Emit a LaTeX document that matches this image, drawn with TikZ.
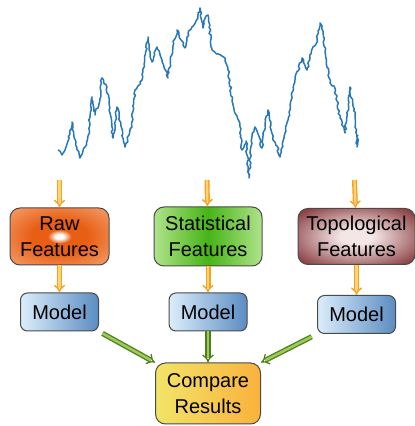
\documentclass[tikz,border=0pt]{standalone}
\usepackage{fontspec}
\setmainfont{Liberation Sans}
\usetikzlibrary{arrows.meta,positioning,decorations.pathmorphing}
\definecolor{boxline}{HTML}{4A4A4A}
\definecolor{seriesblue}{HTML}{2878B8}
\definecolor{feedorange}{HTML}{F5A21C}
\definecolor{feedinner}{HTML}{FDD27A}
\definecolor{mergegreen}{HTML}{4E7F1A}
\definecolor{mergeinner}{HTML}{9BCB5A}
\definecolor{rawcore}{HTML}{E85E14}
\definecolor{rawedge}{HTML}{F39A66}
\definecolor{statlight}{HTML}{B0E38A}
\definecolor{statdark}{HTML}{46B416}
\definecolor{topocore}{HTML}{F4E6E6}
\definecolor{topoedge}{HTML}{741A1E}
\definecolor{modellight}{HTML}{DCEDFB}
\definecolor{modeldark}{HTML}{5B8CC2}
\definecolor{cmpleft}{HTML}{F2E468}
\definecolor{cmpright}{HTML}{F9B23C}
\pgfdeclareradialshading{rawglow}{\pgfpoint{0bp}{0bp}}{color(0bp)=(white);color(2bp)=(white);color(6bp)=(rawcore);color(14bp)=(rawcore);color(34bp)=(rawedge);color(50bp)=(rawedge)}
\pgfdeclareradialshading{topoglow}{\pgfpoint{0bp}{0bp}}{color(0bp)=(topocore);color(7bp)=(topocore);color(38bp)=(topoedge);color(50bp)=(topoedge)}
\tikzset{
  featbox/.style={rectangle,rounded corners=5pt,draw=boxline,line width=0.5pt,align=center,inner sep=2pt,font=\fontsize{10}{13}\selectfont},
  modelbox/.style={rectangle,rounded corners=3.5pt,draw=boxline,line width=0.5pt,left color=modellight,right color=modeldark,minimum width=39pt,minimum height=19pt,inner sep=2pt,font=\fontsize{10}{13}\selectfont},
  resultbox/.style={rectangle,rounded corners=5pt,draw=boxline,line width=0.5pt,left color=cmpleft,right color=cmpright,align=center,minimum width=52.5pt,minimum height=30.5pt,inner sep=2pt,font=\fontsize{10}{13}\selectfont},
  feedarrow/.style={-{Implies},draw=feedorange,double=feedinner,double distance=1.1pt,line width=0.7pt},
  mergearrow/.style={-{Implies},draw=mergegreen,double=mergeinner,double distance=1.3pt,line width=0.65pt},
  series/.style={seriesblue,line width=0.75pt,line join=round,decorate,decoration={random steps,segment length=1.3pt,amplitude=0.55pt}}
}

\begin{document}
\begin{tikzpicture}[x=0.5pt,y=0.5pt]
    \useasboundingbox (0,0) rectangle (414,426);
    % time series
    \pgfmathsetseed{4}
    \draw[series] plot coordinates {(58,276) (62,271) (67,282) (72,304) (76,284) (80,268) (85,279) (88,290) (92,329) (95,311) (99,322) (102,348) (107,339) (110,313) (113,288) (117,319) (121,300) (125,279) (132,299) (135,336) (142,346) (148,389) (152,364) (157,379) (162,366) (168,348) (173,380) (177,396) (182,385) (185,378) (188,392) (192,399) (196,405) (200,418) (203,398) (206,410) (208,411) (212,376) (218,372) (225,368) (228,356) (233,321) (237,310) (240,299) (242,276) (246,285) (249,248) (252,290) (255,299) (258,292) (262,278) (265,302) (268,316) (273,286) (277,280) (280,269) (284,288) (290,316) (295,349) (298,355) (302,368) (307,356) (310,368) (313,379) (316,382) (320,403) (323,395) (325,374) (330,343) (334,340) (337,325) (340,308) (345,293) (350,339) (353,320) (355,309) (357,279) (358,291)};
    % feature boxes
    \node[featbox,shading=rawglow,minimum width=49.5pt,minimum height=28.5pt] (raw) at (59.5,189.5) {Raw\\Features};
    \node[featbox,left color=statlight,right color=statlight,middle color=statdark,minimum width=54pt,minimum height=29.5pt,right=22pt of raw] (stat) {Statistical\\Features};
    \node[featbox,shading=topoglow,minimum width=58.5pt,minimum height=28pt,right=17.5pt of stat] (topo) {Topological\\Features};
    % models
    \node[modelbox,below=13.5pt of raw] (m1) {Model};
    \node[modelbox,below=13pt of stat] (m2) {Model};
    \node[modelbox,below=15pt of topo] (m3) {Model};
    \node[resultbox,below=15.5pt of m2] (cmp) {Compare\\Results};
    \coordinate (s1) at (59.5,246);
    \coordinate (s2) at (207,246);
    \coordinate (s3) at (354.5,246);
    \draw[feedarrow] (s1) -- (raw);
    \draw[feedarrow] (s2) -- (stat);
    \draw[feedarrow] (s3) -- (topo);
    \draw[feedarrow] (raw) -- (m1);
    \draw[feedarrow] (stat) -- (m2);
    \draw[feedarrow] (topo) -- (m3);
    \draw[mergearrow,shorten <=2pt] (m1.south east) -- (cmp.north west);
    \draw[mergearrow] (m2) -- (cmp);
    \draw[mergearrow,shorten <=3pt] (m3.south west) -- (cmp.north east);
  \end{tikzpicture}
\end{document}
